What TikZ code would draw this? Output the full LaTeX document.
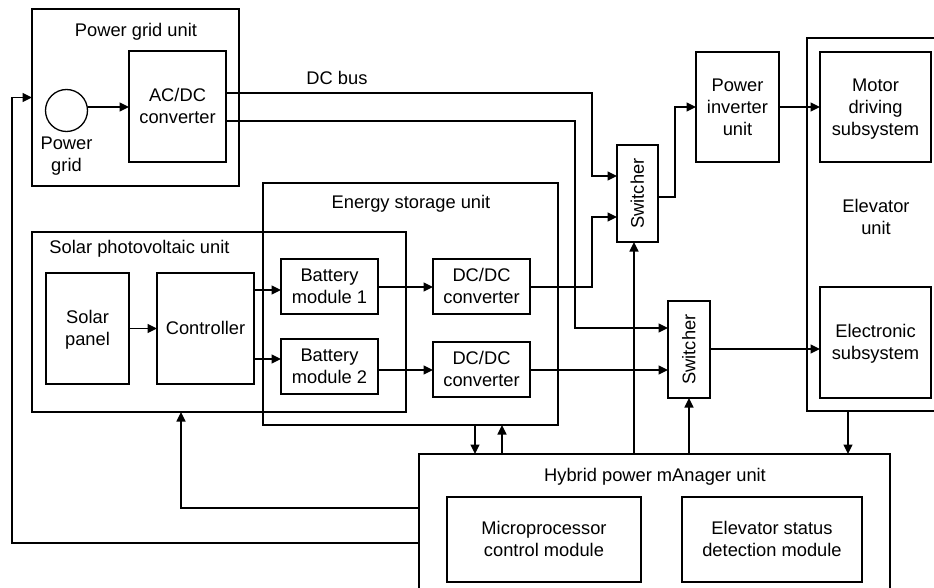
\documentclass[tikz,border=0pt]{standalone}
\usepackage{fontspec}
\setmainfont{Liberation Sans}
\usetikzlibrary{arrows.meta}
\newcommand{\sr}{\rule[-0.2535em]{0pt}{1.2em}}
\begin{document}
\begin{tikzpicture}[x=1pt,y=-1pt,
  every node/.style={font=\fontsize{18.3pt}{21.96pt}\selectfont, inner sep=0pt, outer sep=0pt},
  box/.style={draw, line width=1.3pt, align=center},
  rc/.style args={#1/#2/#3/#4}{minimum width={(#3-#1)*1pt}, minimum height={(#4-#2)*1pt}, at={({(#1+#3)/2},{(#2+#4)/2})}},
  ln/.style={line width=1.3pt},
  arr/.style={ln, -{Triangle[length=9.5pt,width=9pt]}}
]
\clip (0,0) rectangle (934,588);
% boxes
\node[box, rc=32/9/239/186] (pgu) {};
\node[box, rc=129/51/226/162] (acdc) {\sr AC/DC\\\sr converter};
\node[draw, circle, line width=1.3pt, minimum size=42pt] (circ) at (66.5,110.5) {};
\node[align=center] (pglbl) at (66.5,154.5) {\sr Power\\\sr grid};
\node[box, rc=263/183/558/425] (esu) {};
\node[box, rc=32/232/406/412] (spu) {};
\node[box, rc=46/273/129/384] (panel) {\sr Solar\\\sr panel};
\node[box, rc=157/273/254/384] (ctrl) {\sr Controller};
\node[box, rc=281/259/378/314] (bat1) {\sr Battery\\\sr module 1};
\node[box, rc=281/339/378/394] (bat2) {\sr Battery\\\sr module 2};
\node[box, rc=433/259/530/314] (dc1) {\sr DC/DC\\\sr converter};
\node[box, rc=433/342/530/397] (dc2) {\sr DC/DC\\\sr converter};
\node[box, rc=617/145/658/242] (sw1) {};
\node[rotate=90] (sw1t) at (sw1.center) {\sr Switcher};
\node[box, rc=668/301/710/398] (sw2) {};
\node[rotate=90] (sw2t) at (sw2.center) {\sr Switcher};
\node[box, rc=696/52/779/162] (inv) {\sr Power\\\sr inverter\\\sr unit};
\node[box, rc=807/38/960/411] (elev) {};
\node[box, rc=820/52/931/162] (motor) {\sr Motor\\\sr driving\\\sr subsystem};
\node[box, rc=820/287/931/398] (elec) {\sr Electronic\\\sr subsystem};
\node[box, rc=419/454/890/610] (hyb) {};
\node[box, rc=447/497/641/582] (micro) {\sr Microprocessor\\\sr control module};
\node[box, rc=682/497/862/582] (estat) {\sr Elevator status\\\sr detection module};
% titles
\node[anchor=base] (t1) at (136,37) {Power grid unit};
\node[anchor=base] (t2) at (337,85) {DC bus};
\node[anchor=base] (t3) at (411,209) {Energy storage unit};
\node[anchor=base] (t4) at (139.5,253) {Solar photovoltaic unit};
\node[align=center] (t5) at (876,216.7) {\sr Elevator\\\sr unit};
\node[anchor=base] (t6) at (655,481) {Hybrid power mAnager unit};
% bend coordinates
\coordinate (a1) at (592,93); \coordinate (a2) at (592,176);
\coordinate (b1) at (575,121); \coordinate (b2) at (575,328);
\coordinate (c1) at (675,197); \coordinate (c2) at (675,107);
\coordinate (d1) at (592,287); \coordinate (d2) at (592,217);
\coordinate (e1) at (600,370);
\coordinate (f1) at (260,290); \coordinate (f2) at (260,359);
\coordinate (g1) at (475,440); \coordinate (g2) at (502,440);
\coordinate (g3) at (634,440); \coordinate (g4) at (689,440);
\coordinate (g5) at (848,440);
\coordinate (h1) at (181,508); \coordinate (h2) at (12,543);
\coordinate (k1) at (100,107);
\coordinate (m1) at (760,349);
% connectors
\draw[arr] (circ.east |- k1) -- (k1 -| acdc.west);
\draw[arr] (acdc.east |- a1) -- (a1) -- (a2) -- (a2 -| sw1.west);
\draw[arr] (acdc.east |- b1) -- (b1) -- (b2) -- (b2 -| sw2.west);
\draw[arr] (sw1.east |- c1) -- (c1) -- (c2) -- (c2 -| inv.west);
\draw[arr] (inv.east |- c2) -- (c2 -| motor.west);
\draw[arr] (sw2.east |- m1) -- (m1 -| elec.west);
\draw[arr] (dc1.east |- d1) -- (d1) -- (d2) -- (d2 -| sw1.west);
\draw[arr] (dc2.east |- e1) -- (e1 -| sw2.west);
\draw[arr] (bat1.east |- d1) -- (d1 -| dc1.west);
\draw[arr] (bat2.east |- e1) -- (e1 -| dc2.west);
\draw[arr] (panel.east) -- (panel.east -| ctrl.west);
\draw[arr] (ctrl.east |- f1) -- (f1 -| bat1.west);
\draw[arr] (ctrl.east |- f2) -- (f2 -| bat2.west);
\draw[arr] (g1 |- esu.south) -- (g1 |- hyb.north);
\draw[arr] (g2 |- hyb.north) -- (g2 |- esu.south);
\draw[arr] (g3 |- hyb.north) -- (g3 |- sw1.south);
\draw[arr] (g4 |- hyb.north) -- (g4 |- sw2.south);
\draw[arr] (g5 |- elev.south) -- (g5 |- hyb.north);
\draw[arr] (hyb.west |- h1) -- (h1) -- (h1 |- spu.south);
\draw[arr] (hyb.west |- h2) -- (h2) -- (h2 |- pgu.west) -- (pgu.west);
\end{tikzpicture}
\end{document}
